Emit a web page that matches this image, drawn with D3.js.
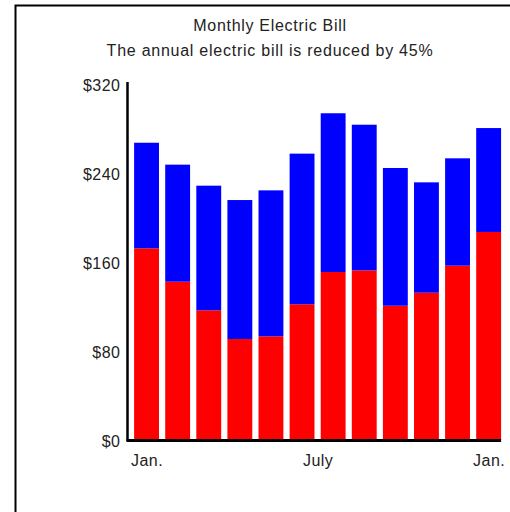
<!DOCTYPE html>
<html>
<head>
<meta charset="utf-8">
<script src="https://cdn.jsdelivr.net/npm/d3@7"></script>
<style>
    body { margin: 0; background: #fff; }
    svg { display: block; font-family: "Liberation Sans", Arial, sans-serif; }
</style>
</head>
<body>
<svg width="510" height="512"></svg>
<script>
const months = ["Jan", "Feb", "Mar", "Apr", "May", "Jun", "Jul", "Aug", "Sep", "Oct", "Nov", "Dec"];
// red part of each bar
const reducedBill = [172.3, 142.3, 116.6, 90.8, 93.2, 122.0, 151.0, 152.5, 120.7, 132.4, 156.7, 187.0];
// blue part stacked on top
const savings = [94.9, 105.2, 112.0, 124.9, 131.2, 135.4, 142.7, 130.9, 123.8, 99.2, 96.5, 93.4];
const yTicks = [0, 80, 160, 240, 320];
const xLabels = [{ month: 0, label: "Jan." }, { month: 6, label: "July" }, { month: 12, label: "Jan." }];
const title = "Monthly Electric Bill";
const subtitle = "The annual electric bill is reduced by 45%";

const font = "\"Liberation Sans\", Arial, sans-serif";
const textColor = "#222";

const svg = d3.select("svg");

// frame runs off the right and bottom edges
svg.append("rect")
    .attr("x", 15.5)
    .attr("y", 5.5)
    .attr("width", 540)
    .attr("height", 540)
    .attr("fill", "none")
    .attr("stroke", "#000")
    .attr("stroke-width", 2);

const table = months.map((m, i) => ({ month: m, reduced: reducedBill[i], savings: savings[i] }));
const series = d3.stack().keys(["reduced", "savings"])(table);
const colors = { reduced: "#ff0000", savings: "#0000ff" };

const x = d3.scaleBand()
    .domain(months)
    .range([131, 504.2])
    .paddingInner(0.2)
    .paddingOuter(0.1);

const y = d3.scaleLinear().domain([0, 320]).range([440, 84]);

// month labels sit on a continuous scale from first to last bar centre
const xMonth = d3.scaleLinear()
    .domain([0, 12])
    .range([x(months[0]) + x.bandwidth() / 2, x(months[11]) + x.bandwidth() / 2]);

svg.append("g")
    .selectAll("g")
    .data(series)
    .join("g")
    .attr("fill", d => colors[d.key])
    .selectAll("rect")
    .data(d => d)
    .join("rect")
    .attr("x", d => x(d.data.month))
    .attr("y", d => y(d[1]))
    .attr("width", x.bandwidth())
    .attr("height", d => y(d[0]) - y(d[1]));

const yAxis = svg.append("g")
    .attr("transform", `translate(${127.5},0)`)
    .call(d3.axisLeft(y).tickValues(yTicks).tickSize(0).tickPadding(7).tickFormat(d => `$${d}`));
yAxis.select(".domain").attr("stroke-width", 2.5).attr("d", `M0,${y(0) + 1}V${y(320) - 2}`);
yAxis.selectAll("text")
    .attr("font-size", 16)
    .attr("font-family", font)
    .attr("letter-spacing", "0.5px")
    .attr("fill", textColor)
    .attr("dy", "0.42em");

const xAxis = svg.append("g")
    .attr("transform", `translate(0,${y(0) + 0.5})`)
    .call(d3.axisBottom(xMonth).tickValues(xLabels.map(d => d.month)).tickSize(0).tickPadding(14)
        .tickFormat(m => xLabels.find(d => d.month === m).label));
xAxis.select(".domain").attr("stroke-width", 3).attr("d", `M126.5,0H${x(months[11]) + x.bandwidth()}`);
xAxis.selectAll("text")
    .attr("font-size", 16)
    .attr("font-family", font)
    .attr("letter-spacing", "0.5px")
    .attr("fill", textColor);

svg.append("text")
    .attr("x", 270)
    .attr("y", 31)
    .attr("text-anchor", "middle")
    .attr("font-size", 16)
    .attr("letter-spacing", "0.7px")
    .attr("fill", textColor)
    .text(title);

svg.append("text")
    .attr("x", 270)
    .attr("y", 55.5)
    .attr("text-anchor", "middle")
    .attr("font-size", 16)
    .attr("letter-spacing", "0.75px")
    .attr("fill", textColor)
    .text(subtitle);
</script>
</body>
</html>
